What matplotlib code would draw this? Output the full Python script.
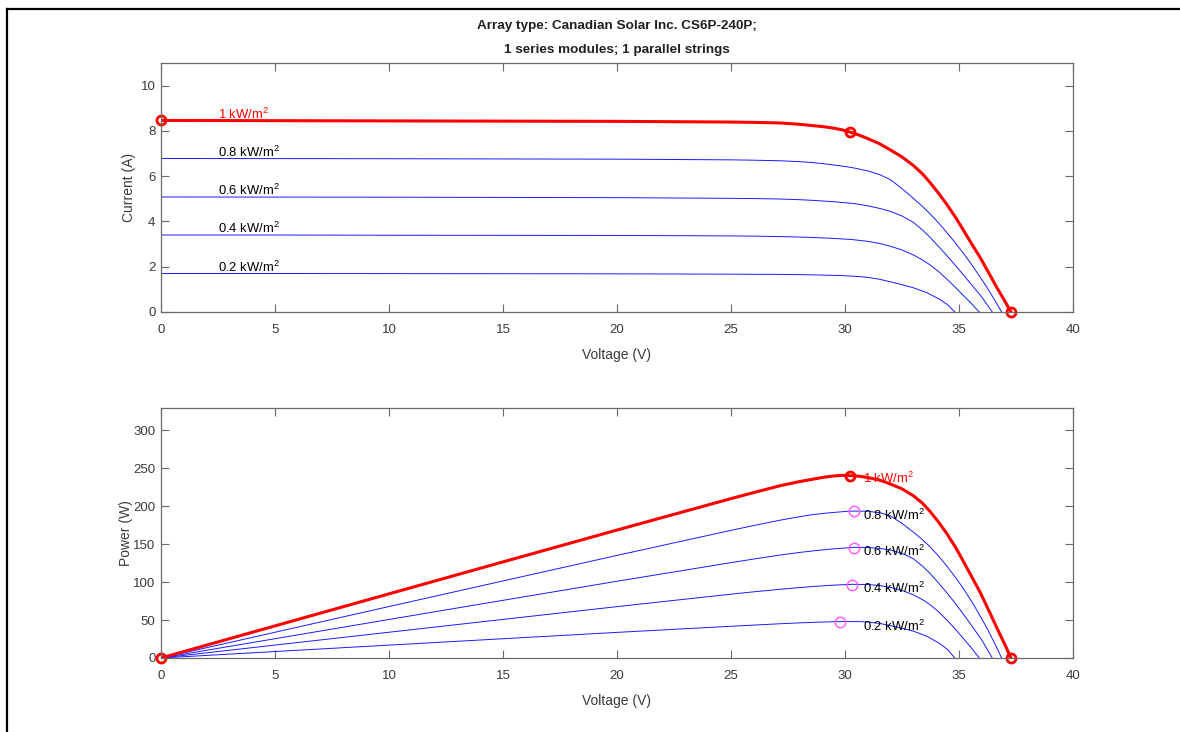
import numpy as np
import matplotlib
matplotlib.use('Agg')
import matplotlib.pyplot as plt
from matplotlib.lines import Line2D

plt.rcParams['font.family'] = ['Liberation Sans', 'DejaVu Sans']
plt.rcParams['mathtext.fontset'] = 'custom'
plt.rcParams['mathtext.rm'] = 'Liberation Sans'
plt.rcParams['mathtext.default'] = 'regular'

# I-V curves of the module at each irradiance level (voltage in V, current in A)
v_1000 = [0, 5, 10, 15, 20, 25, 26, 27.15, 28, 28.6, 29.1, 29.5, 29.9, 30.2, 30.6, 31.0, 31.5, 31.97,
          32.5, 33.0, 33.4, 33.73, 34.1, 34.46, 34.85, 35.19, 35.55, 35.92, 36.36, 36.65, 37.0, 37.28]
i_1000 = [8.46, 8.45, 8.44, 8.43, 8.42, 8.39, 8.375, 8.35, 8.29, 8.23, 8.18, 8.12, 8.04, 7.95, 7.82, 7.66, 7.44, 7.17,
          6.85, 6.47, 6.10, 5.72, 5.25, 4.76, 4.18, 3.62, 3.02, 2.42, 1.63, 1.10, 0.50, 0]

v_800 = [0, 5, 10, 15, 20, 25, 26, 27.15, 28, 28.6, 29.3, 30.06, 30.4, 31.0, 31.54, 32.0, 32.5,
         33.0, 33.4, 33.73, 34.1, 34.46, 34.85, 35.19, 35.63, 36.2, 36.6, 36.87]
i_800 = [6.78, 6.775, 6.77, 6.76, 6.75, 6.72, 6.705, 6.68, 6.64, 6.60, 6.52, 6.42, 6.36, 6.23, 6.06, 5.84, 5.45,
         5.02, 4.66, 4.34, 3.94, 3.52, 3.04, 2.60, 1.99, 1.13, 0.47, 0]

v_600 = [0, 5, 10, 15, 20, 25, 26, 27.15, 28, 28.6, 29.5, 30.4, 31.0, 31.54, 32.0, 32.5,
         33.0, 33.4, 33.73, 34.1, 34.46, 34.85, 35.2, 35.48, 36.0, 36.46]
i_600 = [5.08, 5.075, 5.07, 5.06, 5.05, 5.02, 5.01, 4.99, 4.96, 4.93, 4.87, 4.79, 4.69, 4.57, 4.44, 4.24,
         3.96, 3.62, 3.30, 2.90, 2.50, 2.05, 1.63, 1.29, 0.66, 0]

v_400 = [0, 5, 10, 15, 20, 25, 26, 27.15, 28, 28.6, 29.5, 30.3, 31.0, 31.54, 32.0, 32.5,
         33.0, 33.4, 33.73, 34.1, 34.46, 34.85, 35.2, 35.5, 35.89]
i_400 = [3.40, 3.40, 3.39, 3.385, 3.38, 3.36, 3.35, 3.33, 3.31, 3.29, 3.25, 3.20, 3.12, 3.02, 2.90, 2.74,
         2.52, 2.30, 2.08, 1.79, 1.46, 1.08, 0.72, 0.42, 0]

v_200 = [0, 5, 10, 15, 20, 25, 26, 27.15, 28, 28.6, 29.2, 29.8, 30.6, 31.0, 31.54, 32.0, 32.41,
         33.0, 33.6, 34.17, 34.5, 34.82]
i_200 = [1.70, 1.70, 1.695, 1.69, 1.685, 1.67, 1.665, 1.66, 1.65, 1.64, 1.625, 1.61, 1.565, 1.53, 1.44, 1.33, 1.23,
         1.07, 0.85, 0.55, 0.32, 0]

# maximum power points of the lower irradiance curves
mpp_v = [30.4, 30.4, 30.3, 29.8]
mpp_p = [193, 145, 96, 47]

# rated point at 1 kW/m^2: short circuit, max power, open circuit
isc_1000 = 8.46
vmp_1000, imp_1000 = 30.2, 7.95
voc_1000 = 37.28

blue_curves = [(v_800, i_800), (v_600, i_600), (v_400, i_400), (v_200, i_200)]
blue_names = ['0.8 kW/m$^{2}$', '0.6 kW/m$^{2}$', '0.4 kW/m$^{2}$', '0.2 kW/m$^{2}$']
red_name = '1 kW/m$^{2}$'

title_1 = 'Array type: Canadian Solar Inc. CS6P-240P;'
title_2 = '1 series modules; 1 parallel strings'

axis_grey = '#6a6a6a'
text_grey = '#3a3a3a'
lab_size = 9.4


def style_axes(ax):
    for sp in ax.spines.values():
        sp.set_color(axis_grey)
        sp.set_linewidth(0.9)
    ax.tick_params(direction='in', length=5.5, width=0.8, color=axis_grey,
                   top=True, right=True, labelsize=9.5, labelcolor=text_grey)
    ax.tick_params(axis='x', pad=9)
    ax.tick_params(axis='y', pad=4)
    ax.set_xlim(0, 40)
    ax.set_xticks(np.arange(0, 41, 5))
    ax.set_xlabel('Voltage (V)', fontsize=10, color=text_grey, labelpad=8)


fig = plt.figure(figsize=(11.8, 7.32), dpi=100)

# current vs voltage
ax1 = fig.add_axes([0.1364, 0.5738, 0.7729, 0.3402])
style_axes(ax1)
for (v, i) in blue_curves:
    ax1.plot(v, i, color='#1a1aff', lw=0.7)
ax1.plot(v_1000, i_1000, color='red', lw=2.2)
ax1.plot([0, vmp_1000, voc_1000], [isc_1000, imp_1000, 0], 'o', mfc='none',
         mec='red', mew=2.0, ms=6.5, clip_on=False)
ax1.set_ylim(0, 11)
ax1.set_yticks(np.arange(0, 11, 2))
ax1.set_ylabel('Current (A)', fontsize=10, color=text_grey, labelpad=3)
ax1.text(2.5, isc_1000 - 0.05, red_name, color='red', fontsize=lab_size, va='bottom')
for (v, i), name in zip(blue_curves, blue_names):
    ax1.text(2.5, i[0] - 0.05, name, color='black', fontsize=lab_size, va='bottom')

# power vs voltage
ax2 = fig.add_axes([0.1364, 0.1011, 0.7729, 0.3415])
style_axes(ax2)
for (v, i) in blue_curves:
    ax2.plot(v, np.multiply(v, i), color='#1a1aff', lw=0.7)
ax2.plot(v_1000, np.multiply(v_1000, i_1000), color='red', lw=2.2)
ax2.plot([0, vmp_1000, voc_1000], [0, vmp_1000 * imp_1000, 0], 'o', mfc='none',
         mec='red', mew=2.0, ms=6.5, clip_on=False)
ax2.plot(mpp_v, mpp_p, 'o', mfc='none', mec='#ff55ff', mew=1.0, ms=7.5)
ax2.set_ylim(0, 329)
ax2.set_yticks(np.arange(0, 301, 50))
ax2.set_ylabel('Power (W)', fontsize=10, color=text_grey, labelpad=0)
ax2.text(30.8, vmp_1000 * imp_1000 - 4, red_name, color='red', fontsize=lab_size, va='center')
for p, name in zip(mpp_p, blue_names):
    ax2.text(30.8, p - 5, name, color='black', fontsize=lab_size, va='center')

fig.text(0.523, 0.965, title_1, ha='center', va='center', fontsize=9.7, fontweight='bold', color='#202020')
fig.text(0.523, 0.932, title_2, ha='center', va='center', fontsize=9.7, fontweight='bold', color='#202020')

# outer frame on the left and top edges
fig.add_artist(Line2D([0.0059, 0.0059], [0.0, 0.988], color='black', lw=1.6, transform=fig.transFigure))
fig.add_artist(Line2D([0.0059, 1.0], [0.988, 0.988], color='black', lw=1.6, transform=fig.transFigure))

fig.savefig('out.png', dpi=100, facecolor='white')
